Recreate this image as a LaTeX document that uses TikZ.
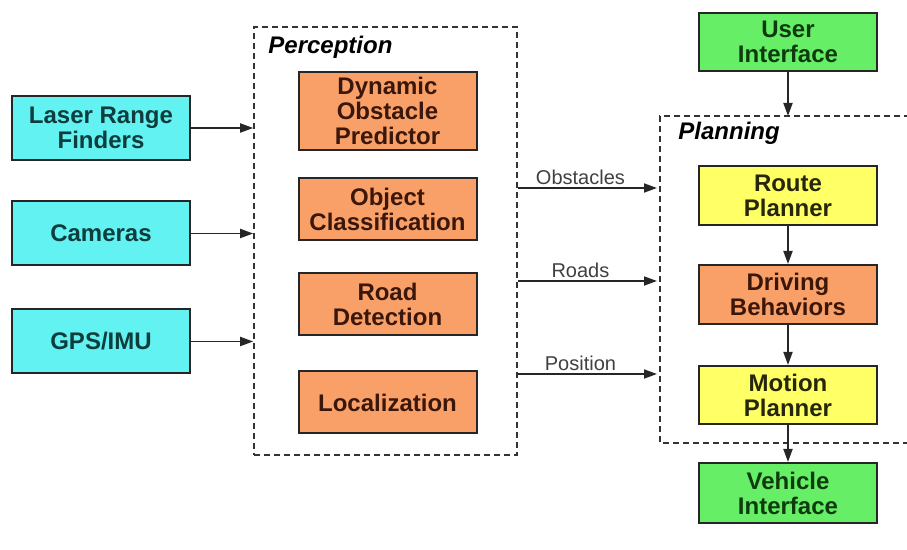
\documentclass[tikz,border=0pt]{standalone}
\usepackage{fontspec}
\setmainfont{Liberation Sans}
\usetikzlibrary{arrows.meta}

\definecolor{sensorfill}{HTML}{62F2F2}
\definecolor{sensortext}{HTML}{0F3C3C}
\definecolor{procfill}{HTML}{F8A068}
\definecolor{proctext}{HTML}{3A170A}
\definecolor{planfill}{HTML}{FFFF66}
\definecolor{plantext}{HTML}{26260A}
\definecolor{ifacefill}{HTML}{66EE66}
\definecolor{ifacetext}{HTML}{0E3A0E}

\tikzset{
  blk/.style={draw=black!85, line width=1pt, align=center, inner sep=0pt,
    minimum width=89pt, font=\fontsize{12}{12.5}\selectfont\bfseries},
  sensor/.style={blk, fill=sensorfill, text=sensortext, minimum height=32pt},
  proc/.style={blk, fill=procfill, text=proctext, minimum height=31pt},
  plan/.style={blk, fill=planfill, text=plantext, minimum height=29.5pt},
  iface/.style={blk, fill=ifacefill, text=ifacetext, minimum height=29.5pt},
  group/.style={draw=black!80, line width=0.8pt, dash pattern=on 3pt off 2pt},
  grouptitle/.style={anchor=west, inner sep=0pt, font=\fontsize{12}{14}\selectfont\bfseries\itshape},
  arr/.style={-{Triangle[length=6.5pt,width=4.5pt]}, line width=0.9pt, draw=black!85},
  lbl/.style={above, inner sep=1pt, text=black!75, font=\fontsize{10}{12}\selectfont}
}

\begin{document}
\begin{tikzpicture}[x=0.5pt,y=-0.5pt]
\useasboundingbox (0,0) rectangle (907,550);

% sensors
\node[sensor] (laser) at (101,128) {Laser Range\\Finders};
\node[sensor] (cameras) at (101,233.5) {Cameras};
\node[sensor] (gps) at (101,341.5) {GPS/IMU};

% perception
\node[group, minimum width=131.5pt, minimum height=214pt] (perception) at (385.5,241) {};
\node[grouptitle] (perctitle) at (268,47) {Perception};
\node[proc, minimum height=39pt] (dynamic) at (387.5,111) {Dynamic\\Obstacle\\Predictor};
\node[proc] (object) at (387.5,209.5) {Object\\Classification};
\node[proc] (road) at (387.5,304) {Road\\Detection};
\node[proc] (local) at (387.5,402.5) {Localization};

\draw[arr] (laser) -- (laser -| perception.west);
\draw[arr] (cameras) -- (cameras -| perception.west);
\draw[arr] (gps) -- (gps -| perception.west);

% planning
\coordinate (pl-nw) at (660,116);
\coordinate (pl-sw) at (660,443);
\draw[group] (910,116) -- (pl-nw) -- (pl-sw) -- (910,443);
\node[grouptitle] (plantitle) at (678,133) {Planning};
\node[iface, minimum height=29pt] (ui) at (788,42) {User\\Interface};
\node[plan] (route) at (788,195.5) {Route\\Planner};
\node[proc, minimum height=29.5pt] (driving) at (788,294.5) {Driving\\Behaviors};
\node[plan, minimum height=29pt] (motion) at (788,395) {Motion\\Planner};
\node[iface, minimum height=30pt] (vehicle) at (788,493) {Vehicle\\Interface};

\coordinate (obs) at (657,188);
\coordinate (rds) at (657,281);
\coordinate (pos) at (657,374);
\draw[arr] (perception.east |- obs) -- (obs) node[lbl, pos=0.45] {Obstacles};
\draw[arr] (perception.east |- rds) -- (rds) node[lbl, pos=0.45] {Roads};
\draw[arr] (perception.east |- pos) -- (pos) node[lbl, pos=0.45] {Position};

\draw[arr] (ui) -- (ui |- pl-nw);
\draw[arr] (route) -- (driving);
\draw[arr] (driving) -- (motion);
\draw[arr] (motion) -- (vehicle);

\end{tikzpicture}
\end{document}
